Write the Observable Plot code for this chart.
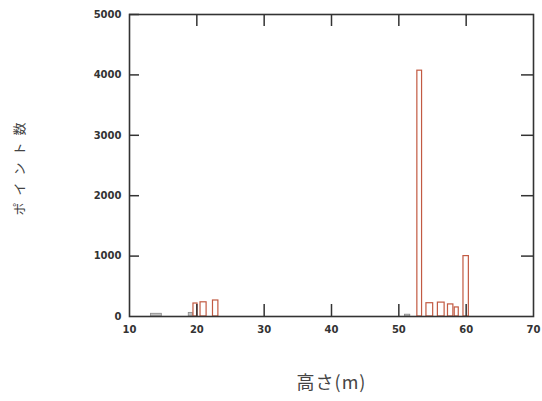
<!DOCTYPE html>
<html><head><meta charset="utf-8">
<script src="https://cdn.jsdelivr.net/npm/d3@7"></script>
<script src="https://cdn.jsdelivr.net/npm/@observablehq/plot@0.6"></script>
<style>body{margin:0;background:#fff}</style>
</head><body><div id="chart"></div>
<script>
// main series: bar centre height (m) and point count
const heights = [19.8, 21.0, 22.8, 53.1, 54.6, 56.3, 57.7, 58.6, 60.0];
const counts  = [215, 235, 265, 4070, 220, 230, 200, 150, 1000];
const widths  = [0.6, 0.9, 0.8, 0.7, 1.0, 1.0, 0.8, 0.6, 0.8];
// small grey series
const greyHeights = [14.0, 19.1, 51.3];
const greyCounts  = [45, 60, 30];
const greyWidths  = [1.6, 0.6, 0.8];
const xTickLabels = [10, 20, 30, 40, 50, 60, 70];
const xTicks = [20, 30, 40, 50, 60];
const yTickLabels = [0, 1000, 2000, 3000, 4000, 5000];
const yTicksLeft = [1000, 2000, 3000, 4000, 5000];
const yTicksRight = [1000, 2000, 3000, 4000];

const bars = heights.map((h, i) => ({h, c: counts[i], w: widths[i]}));
const grey = greyHeights.map((h, i) => ({h, c: greyCounts[i], w: greyWidths[i]}));

const W = 542, H = 401, ML = 129, MR = 9, MT = 14, MB = 85;
const fw = W - ML - MR, fh = H - MT - MB, tk = 12;

const chart = Plot.plot({
  width: W, height: H,
  marginLeft: ML, marginRight: MR, marginTop: MT, marginBottom: MB,
  style: {fontFamily: "DejaVu Sans", background: "#fff"},
  x: {domain: [10, 70]},
  y: {domain: [0, 5000]},
  marks: [
    Plot.rectY(grey, {x1: d => d.h - d.w/2, x2: d => d.h + d.w/2, y: "c", fill: "#9a9a9a", fillOpacity: 0.6, stroke: "#888", strokeWidth: 0.8}),
    Plot.rectY(bars, {x1: d => d.h - d.w/2, x2: d => d.h + d.w/2, y: "c", fill: "#fff", stroke: "#c25a42", strokeWidth: 1.2}),
    Plot.tickX(xTicks, {x: d => d, insetTop: fh - tk, stroke: "#333", strokeWidth: 1.5}),
    Plot.tickX(xTicks, {x: d => d, insetBottom: fh - tk, stroke: "#333", strokeWidth: 1.5}),
    Plot.tickY(yTicksLeft, {y: d => d, insetRight: fw - 10, stroke: "#333", strokeWidth: 1.5}),
    Plot.tickY(yTicksRight, {y: d => d, insetLeft: fw - tk, stroke: "#333", strokeWidth: 1.5}),
    Plot.axisX({anchor: "bottom", ticks: xTickLabels, tickSize: 0, tickPadding: 9, fontSize: 10, fontWeight: "bold", fill: "#333",
      tickFormat: d3.format("d"), label: "高さ(m)", labelAnchor: "center", labelOffset: 72}),
    Plot.axisY({anchor: "left", ticks: yTickLabels, tickSize: 0, tickPadding: 8, fontSize: 10, fontWeight: "bold", fill: "#333",
      tickFormat: d3.format("d"), label: "ポイント数", labelAnchor: "center", labelOffset: 112}),
    Plot.frame({stroke: "#333", strokeWidth: 1.6})
  ]
});
document.getElementById("chart").appendChild(chart);
// style axis labels (and drop the automatic arrows)
d3.select(chart).selectAll('[aria-label="x-axis label"] text').text("高さ(m)").style("font-size", "18px").style("letter-spacing", "1px").style("font-weight", "normal").attr("fill", "#444").style("font-family", "'Noto Sans CJK JP'");
d3.select(chart).selectAll('[aria-label="y-axis label"] text').text("ポイント数").style("font-size", "13px").style("font-weight", "normal").attr("fill", "#444").style("letter-spacing", "7px").attr("dy", "-0.2em").style("font-family", "'Noto Sans CJK JP'");
</script></body></html>
